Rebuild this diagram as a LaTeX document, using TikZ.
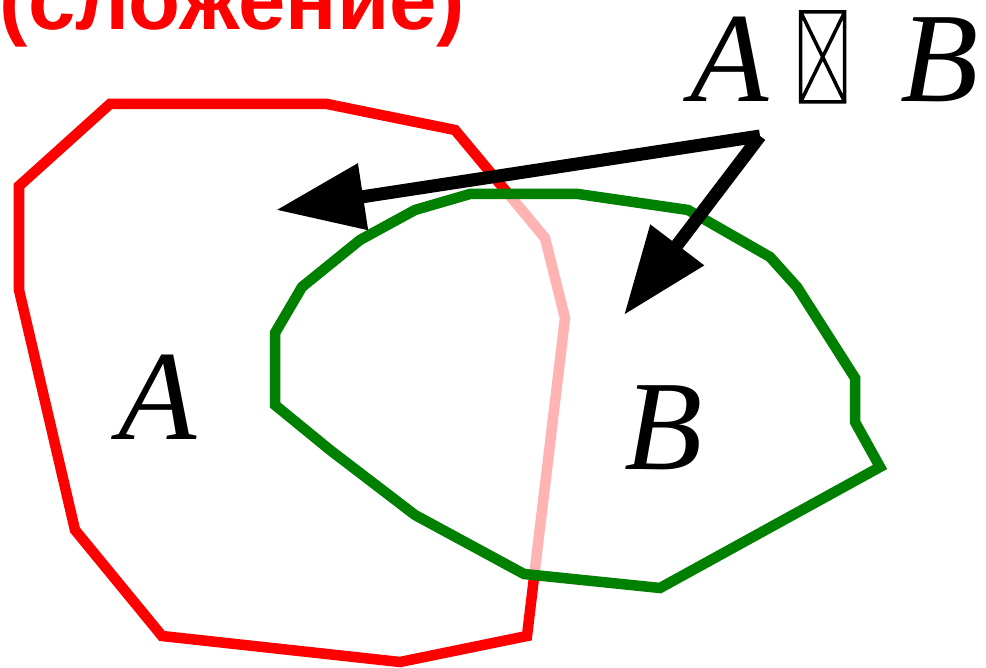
\documentclass[tikz,border=0pt]{standalone}
\usepackage{fontspec}
\setmainfont{Liberation Serif}
\newfontfamily\titlefont{Liberation Sans}
\usetikzlibrary{
    arrows.meta,
    positioning
}
\definecolor{setred}{RGB}{255,0,0}
\definecolor{setgreen}{RGB}{0,128,0}

% the union sign comes out as an empty glyph box
\newcommand{\glyphbox}{%
    \tikz[x=1cm,y=1cm,baseline=0pt]
        \draw[line width=0.035cm] (0,0) rectangle (0.44,0.90)
            (0,0) -- (0.44,0.90) (0,0.90) -- (0.44,0);%
}

\begin{document}
\begin{tikzpicture}[
    x=0.01cm,
    y=-0.01cm,
    redset/.style={
        draw=setred,
        line width=0.105cm,
        line join=miter
    },
    greenset/.style={
        draw=setgreen,
        line width=0.105cm,
        line join=miter,
        fill=white,
        fill opacity=0.7
    },
    setlabel/.style={
        font=\fontsize{36.4}{40}\selectfont\itshape,
        inner sep=0pt
    },
    heading/.style={
        font=\titlefont\fontsize{24.2}{28}\selectfont\bfseries,
        text=setred,
        inner sep=0pt
    },
    pointer/.style={
        -{Triangle[length=0.88cm,width=0.64cm]},
        line width=0.13cm
    }
]
\useasboundingbox (0,0) rectangle (986,668);

\node[heading, anchor=base west] (title) at (-1,30) {(сложение)};

% set A
\draw[redset] (110,104) -- (327,104) -- (455,130) -- (545,238)
    -- (565,318) -- (527,636) -- (400,662) -- (162,636)
    -- (75,530) -- (19,290) -- (19,186) -- cycle;

% set B, lying over A
\draw[greenset] (470,194) -- (578,194) -- (688,210) -- (770,257)
    -- (797,287) -- (855,378) -- (855,422) -- (880,467)
    -- (660,588) -- (524,574) -- (415,515) -- (330,450)
    -- (275,405) -- (275,333) -- (302,287) -- (360,240)
    -- (415,210) -- cycle;

\node[setlabel, anchor=base] (labelA) at (158,440) {A};
\node[setlabel, anchor=base] (labelB) at (664,470) {B};

\node[setlabel, anchor=base west] (union) at (690,102)
    {A\hspace{0.30cm}\glyphbox\hspace{0.54cm}B};

\coordinate (source) at (760,136);
\coordinate (tipA) at (276,210);
\coordinate (tipB) at (624,315);

\draw[pointer] (source) -- (tipA);
\draw[pointer] (source) -- (tipB);

\end{tikzpicture}
\end{document}
